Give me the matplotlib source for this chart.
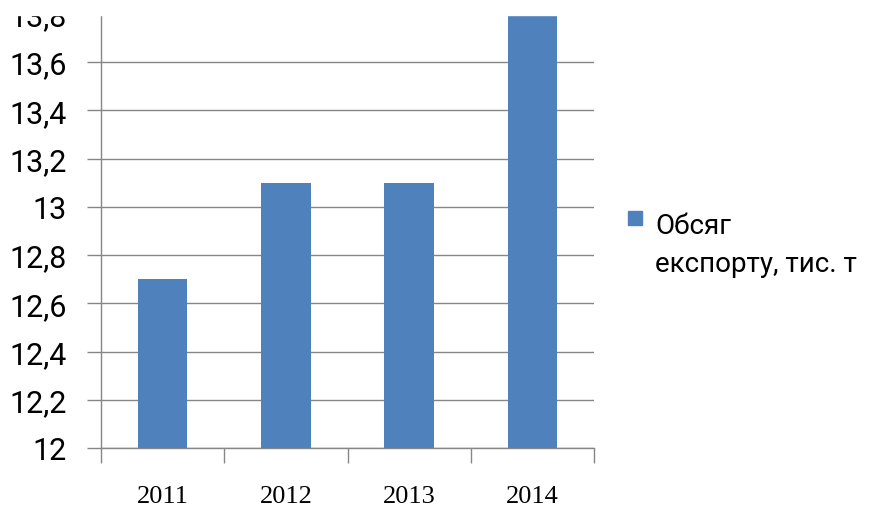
import matplotlib.pyplot as plt
from matplotlib.patches import Rectangle
import numpy as np

years = ['2011', '2012', '2013', '2014']
export_volume = [12.7, 13.1, 13.1, 13.8]
y_ticks = [12, 12.2, 12.4, 12.6, 12.8, 13, 13.2, 13.4, 13.6, 13.8]
y_labels = ['12', '12,2', '12,4', '12,6', '12,8', '13', '13,2', '13,4', '13,6', '13,8']
series_name = ['Обсяг', 'експорту, тис. т']

W, H = 873, 510
fig = plt.figure(figsize=(W / 100, H / 100), dpi=100)
ax = fig.add_axes([101 / W, 1 - 449 / H, (594 - 101) / W, (449 - 14.75) / H])

x = np.arange(len(years))
ax.bar(x, [v - 12 for v in export_volume], bottom=12, width=0.4,
       color='#4F81BD', zorder=3)

ax.set_xlim(-0.5, len(years) - 0.5)
ax.set_ylim(12, 13.8)
ax.set_yticks(y_ticks)
ax.set_yticklabels(y_labels, family='Roboto', fontsize=22)
ax.yaxis.grid(True, color='#868686', linewidth=1, zorder=0)

# category ticks sit between the bars
ax.set_xticks(np.arange(-0.5, len(years), 1.0))
ax.set_xticklabels([])
ax.set_xticks(x, minor=True)
ax.set_xticklabels(years, minor=True, family='Liberation Serif', fontsize=19)
ax.tick_params(axis='x', which='major', length=11, color='#868686', width=1)
ax.tick_params(axis='x', which='minor', length=0, pad=27)
ax.tick_params(axis='y', length=10, color='#868686', width=1, pad=14.5)

for side in ['top', 'right']:
    ax.spines[side].set_visible(False)
for side in ['left', 'bottom']:
    ax.spines[side].set_color('#868686')
    ax.spines[side].set_linewidth(1)

# legend: square swatch and a two-line series name
fig.patches.append(Rectangle((628 / W, 1 - 226 / H), 14 / W, 14 / H,
                             transform=fig.transFigure, color='#4F81BD'))
fig.text(655 / W, 1 - 234 / H, series_name[0], family='Roboto', fontsize=20,
         va='baseline', ha='left')
fig.text(655 / W, 1 - 272 / H, series_name[1], family='Roboto', fontsize=20,
         va='baseline', ha='left')

# the chart is cut off just above the 13,8 line
fig.patches.append(Rectangle((0, 1 - 15.5 / H), 1, 15.5 / H,
                             transform=fig.transFigure, color='white', zorder=10))

fig.savefig('out.png', dpi=100)
